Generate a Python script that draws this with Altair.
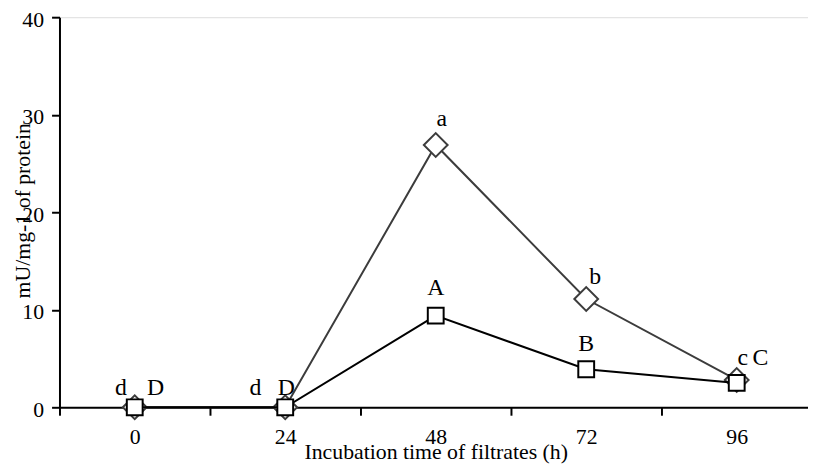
import altair as alt
import pandas as pd

# ---- data ----
hours = ["0", "24", "48", "72", "96"]
diamond_values = [0, 0, 26.9, 11.1, 2.8]
square_values = [0, 0, 9.4, 3.9, 2.5]
diamond_letters = ["d", "d", "a", "b", "c"]
square_letters = ["D", "D", "A", "B", "C"]
y_tick_values = [0, 10, 20, 30, 40]

x_title = "Incubation time of filtrates (h)"
y_title = "mU/mg-1 of protein"

# ---- styling (label nudges, in pixels) ----
DIAMOND_LABEL_NUDGE = [(-14, -12), (-30, -12), (6, -19), (9, -15), (6, -15)]
SQUARE_LABEL_NUDGE = [(21, -12), (1, -12), (0, -21), (0, -18), (24, -18)]
FONT = "Liberation Serif"
GRAY = "#3c3c3c"

df = pd.DataFrame({
    "hour": hours * 2,
    "value": diamond_values + square_values,
    "letter": diamond_letters + square_letters,
    "series": ["diamond"] * len(hours) + ["square"] * len(hours),
    "idx": list(range(len(hours))) * 2,
})

x_enc = alt.X(
    "hour:O",
    sort=hours,
    scale=alt.Scale(type="band", paddingInner=0, paddingOuter=0),
    axis=alt.Axis(
        title=x_title,
        tickBand="extent",
        labelAngle=0,
        grid=False,
        domainColor="black",
        domainWidth=2,
        tickColor="black",
        tickWidth=2,
        tickSize=8,
        labelFont=FONT,
        labelFontSize=22,
        labelColor="black",
        labelPadding=12,
        titleFont=FONT,
        titleFontSize=22,
        titleFontWeight="normal",
        titleColor="black",
        titleX=380,
        titleY=45,
        titleAlign="center",
        titleBaseline="middle",
    ),
)

y_enc = alt.Y(
    "value:Q",
    scale=alt.Scale(domain=[0, 40], nice=False, zero=True),
    axis=alt.Axis(
        title=y_title,
        values=y_tick_values,
        grid=False,
        domainColor="black",
        domainWidth=2,
        tickColor="black",
        tickWidth=2,
        tickSize=8,
        labelFont=FONT,
        labelFontSize=22,
        labelColor="black",
        labelPadding=8,
        labelOffset=2,
        titleFont=FONT,
        titleFontSize=22,
        titleFontWeight="normal",
        titleColor="black",
        titleAngle=270,
        titleX=-37,
        titleY=195,
        titleAlign="center",
        titleBaseline="middle",
    ),
)

base = alt.Chart(df).encode(x=x_enc, y=y_enc)

d_line = base.transform_filter(alt.datum.series == "diamond").mark_line(color=GRAY, strokeWidth=2)
d_pts = base.transform_filter(alt.datum.series == "diamond").mark_point(
    shape="diamond", size=576, filled=True, fill="white", stroke=GRAY, strokeWidth=2, opacity=1
)
s_line = base.transform_filter(alt.datum.series == "square").mark_line(color="black", strokeWidth=2)
s_pts = base.transform_filter(alt.datum.series == "square").mark_point(
    shape="square", size=256, filled=True, fill="white", stroke="black", strokeWidth=2, opacity=1
)

text_layers = []
for series, nudges in (("diamond", DIAMOND_LABEL_NUDGE), ("square", SQUARE_LABEL_NUDGE)):
    for i, (dx, dy) in enumerate(nudges):
        text_layers.append(
            base.transform_filter((alt.datum.series == series) & (alt.datum.idx == i))
            .mark_text(dx=dx, dy=dy, align="center", baseline="alphabetic",
                       font=FONT, fontSize=24, color="black")
            .encode(text="letter:N")
        )

chart = alt.layer(d_line, d_pts, s_line, s_pts, *text_layers).properties(
    width=760,
    height=394,
    autosize=alt.AutoSizeParams(type="none"),
    padding={"left": 52, "top": 7, "right": -4, "bottom": 56},
).configure_view(stroke=None).configure(background="white")

chart.save("out.html", embed_options={"renderer": "svg", "actions": False})
